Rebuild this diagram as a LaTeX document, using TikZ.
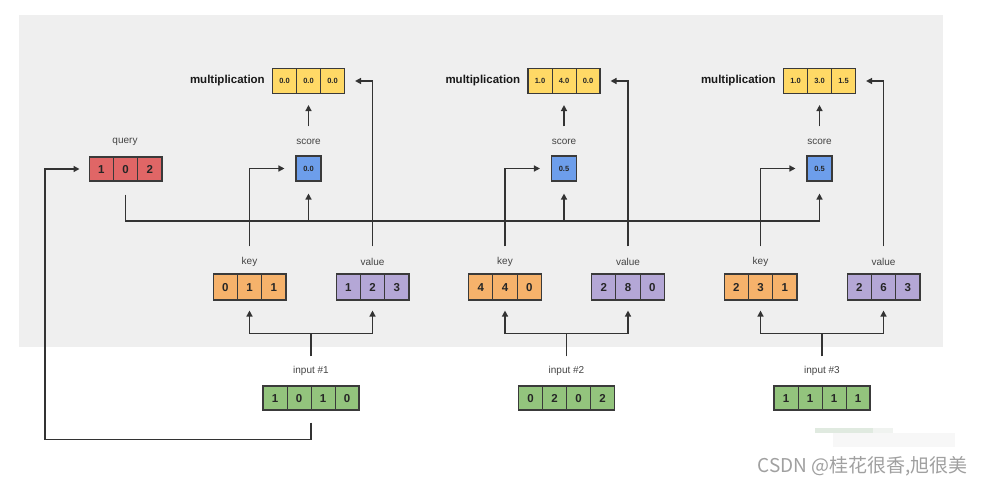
\documentclass[tikz,border=0pt]{standalone}
\usepackage{fontspec}
\setmainfont{Liberation Sans}
\newfontfamily\cjkfont{Noto Sans CJK SC}
\usetikzlibrary{calc,arrows.meta}
\definecolor{bgc}{HTML}{EFEFEF}
\definecolor{qred}{HTML}{E06666}
\definecolor{korange}{HTML}{F6B26B}
\definecolor{vpurple}{HTML}{B4A7D6}
\definecolor{sblue}{HTML}{6D9EEB}
\definecolor{myellow}{HTML}{FFD966}
\definecolor{igreen}{HTML}{93C47D}
\definecolor{edgec}{HTML}{3A3A3A}
\definecolor{lnc}{HTML}{333333}
\definecolor{wmc}{HTML}{A0A0A0}
\definecolor{labc}{HTML}{444444}

\newcommand\cellrow[7]{% name, x, y, n, cell width, style, list
  \foreach \v [count=\i] in {#7} {
    \node[cellbox, #6, minimum width=#5pt] (#1-\i) at ({#2-#4*#5/2+(\i-0.5)*#5},#3) {\v};
  }
  \node[rowbox, #6, fill=none, minimum width={#4*#5pt}] (#1) at (#2,#3) {};
}

\newcommand\attgroup[7]{% idx, dx, mult, score, key, value, input
  \pgfmathsetmacro\dx{#2}
  \cellrow{m#1}{308.5+\dx}{81}{3}{24}{mrow}{#3}
  \node[multlab] (ml#1) at ($(m#1.west)+(-7,0)$) {multiplication};
  \node[lab] (sl#1) at (308.5+\dx,142) {score};
  \cellrow{s#1}{308.5+\dx}{168.5}{1}{25}{srow}{#4}
  \node[lab] (kl#1) at (249.5+\dx,262) {key};
  \cellrow{k#1}{249.5+\dx}{287}{3}{24.3}{krow}{#5}
  \node[lab] (vl#1) at (372.5+\dx,262) {value};
  \cellrow{v#1}{372.5+\dx}{287}{3}{24.3}{vrow}{#6}
  \node[lab] (il#1) at (311+\dx,371) {input \##1};
  \cellrow{i#1}{311+\dx}{398}{4}{24}{irow}{#7}
  \draw[arr] ($(s#1.north)+(0,-29)$) -- ($(m#1.south)+(0,11)$);
  \draw[arr, shorten >=11pt] ($(k#1.north)+(0,-27)$) |- (s#1.west);
  \draw[arr, shorten >=10pt] ($(v#1.north)+(0,-27)$) |- (m#1.east);
  \draw[conn] ($(i#1.north)+(0,-29)$) -- ($(i#1.north)+(0,-52)$) coordinate (ib#1);
  \draw[arr] (ib#1) -| ($(k#1.south)+(0,10)$);
  \draw[arr] (ib#1) -| ($(v#1.south)+(0,10)$);
}

\begin{document}
\begin{tikzpicture}[x=1pt,y=-1pt,
  rowbox/.style={draw=edgec, line width=1.1pt, inner sep=0pt},
  cellbox/.style={draw=edgec, line width=1pt, inner sep=0pt, text=black!85},
  bigdig/.style={font=\fontsize{11.5}{12}\selectfont\bfseries, text height=8.3pt, text depth=0pt},
  smalldig/.style={font=\fontsize{7.5}{8}\selectfont\bfseries, text height=5.4pt, text depth=0pt},
  qrow/.style={fill=qred, minimum height=24pt, bigdig},
  krow/.style={fill=korange, minimum height=26pt, bigdig},
  vrow/.style={fill=vpurple, minimum height=26pt, bigdig},
  irow/.style={fill=igreen, minimum height=24pt, bigdig},
  mrow/.style={fill=myellow, minimum height=25pt, smalldig},
  srow/.style={fill=sblue, minimum height=25pt, smalldig},
  lab/.style={font=\fontsize{10}{11}\selectfont, text=labc, inner sep=0pt},
  multlab/.style={font=\fontsize{11.5}{12}\selectfont\bfseries, text=black!90, anchor=east, inner sep=0pt},
  conn/.style={draw=lnc, line width=1.4pt},
  arr/.style={conn, -{Triangle[length=6pt,width=6pt]}},
]
\fill[white] (0,0) rectangle (983,485);
\useasboundingbox (0,0) rectangle (983,485);
\fill[bgc] (19,15) rectangle (943,347);

% watermark smudge
\fill[green!30!black!12] (815,428) rectangle (873,433);
\fill[green!20!black!6] (873,428) rectangle (893,433);
\fill[black!3] (833,433) rectangle (955,447);

\node[lab] (ql) at (125,142) {query};
\cellrow{q}{125.5}{169}{3}{24.3}{qrow}{1,0,2}

\attgroup{1}{0}{0.0,0.0,0.0}{0.0}{0,1,1}{1,2,3}{1,0,1,0}
\attgroup{2}{255.5}{1.0,4.0,0.0}{0.5}{4,4,0}{2,8,0}{0,2,0,2}
\attgroup{3}{511}{1.0,3.0,1.5}{0.5}{2,3,1}{2,6,3}{1,1,1,1}

\coordinate (bus) at (0,221);
\draw[conn] ($(q.south)+(0,13)$) -- (q.south |- bus) -- (s3.south |- bus);
\foreach \k in {1,2,3}{
  \draw[arr] (s\k.south |- bus) -- ($(s\k.south)+(0,12)$);
}

\coordinate (qin) at (45,0);
\draw[arr, shorten >=9pt] ($(i1.south)+(0,12)$) -- ($(i1.south)+(0,29)$) -| (qin |- q.west) -- (q.west);

\node[font=\cjkfont\fontsize{19}{19}\selectfont, text=wmc, anchor=east, inner sep=0pt] (wmk) at (968,466) {CSDN @桂花很香,旭很美};
\end{tikzpicture}
\end{document}
